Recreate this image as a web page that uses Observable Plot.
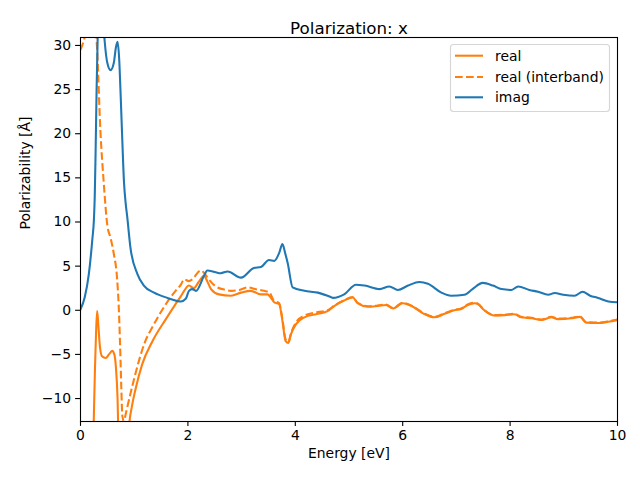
<!DOCTYPE html>
<html><head><meta charset="utf-8">
<script src="https://cdn.jsdelivr.net/npm/d3@7"></script>
<script src="https://cdn.jsdelivr.net/npm/@observablehq/plot@0.6"></script>
<style>body{margin:0;background:#fff} svg{font-family:"DejaVu Sans",sans-serif}</style>
</head><body><div id="chart"></div>
<script>
const chartTitle = "Polarization: x";
const xLabel = "Energy [eV]";
const yLabel = "Polarizability [Å]";
const xTicks = [0, 2, 4, 6, 8, 10];
const yTicks = [-10, -5, 0, 5, 10, 15, 20, 25, 30];
const seriesNames = ["real", "real (interband)", "imag"];

const realX = [0.02,0.1,0.2,0.245,0.27,0.29,0.31,0.33,0.36,0.40,0.47,0.53,0.59,0.63,0.66,0.69,0.72,0.78,0.85,0.90,0.96,1.03,1.15,1.34,1.59,1.77,1.87,1.93,2.02,2.11,2.20,2.30,2.36,2.43,2.58,2.80,2.99,3.17,3.36,3.48,3.61,3.70,3.76,3.82,3.87,3.92,4.01,4.17,4.42,4.60,4.73,4.91,5.07,5.16,5.35,5.54,5.69,5.82,6.00,6.19,6.38,6.59,6.78,6.96,7.09,7.21,7.34,7.40,7.52,7.71,7.90,8.08,8.21,8.40,8.58,8.77,8.89,9.14,9.30,9.42,9.64,9.83,10];
const realY = [-200,-60,-25,-13,-6.5,-2.5,-0.1,-1.5,-4,-5.2,-5.4,-5.0,-4.6,-5.0,-6.5,-10,-18,-25,-20,-13.5,-10.8,-8.8,-6.1,-3.5,-1.0,0.7,1.6,2.2,2.8,2.5,3.2,3.9,3.3,2.4,1.8,1.65,2.0,2.2,1.8,1.8,0.9,0.7,-1.2,-3.5,-3.7,-2.7,-1.6,-0.8,-0.4,-0.1,0.5,1.1,1.45,0.8,0.4,0.5,0.6,0.2,0.8,0.4,-0.35,-0.8,-0.4,0.0,0.15,0.6,0.8,0.7,0.0,-0.6,-0.55,-0.45,-0.8,-0.9,-1.1,-0.8,-1.0,-0.9,-0.75,-1.4,-1.45,-1.3,-1.1];

const interX = [0,0.05,0.1,0.18,0.25,0.31,0.37,0.43,0.50,0.56,0.62,0.68,0.71,0.74,0.76,0.78,0.81,0.84,0.96,1.08,1.20,1.34,1.59,1.77,1.87,1.93,2.02,2.08,2.24,2.33,2.39,2.52,2.71,2.80,2.96,3.11,3.25,3.42,3.52,3.60,3.70,3.76,3.82,3.87,3.92,4.01,4.17,4.42,4.60,4.73,4.91,5.07,5.16,5.35,5.54,5.69,5.82,6.00,6.19,6.38,6.59,6.78,6.96,7.09,7.21,7.34,7.40,7.52,7.71,7.90,8.08,8.21,8.40,8.58,8.77,8.89,9.14,9.30,9.42,9.64,9.83,10];
const interY = [29.5,30.3,31.5,34,34,29.5,20.4,14.7,9.6,8.2,6.4,3.7,0.7,-4.5,-8.8,-12.0,-12.6,-11.8,-8.7,-5.9,-3.6,-1.9,0.7,2.2,2.9,3.5,3.3,3.5,4.5,4.0,3.5,2.7,2.3,2.2,2.3,2.6,2.4,2.2,2.0,1.1,0.8,-1.0,-3.3,-3.6,-2.6,-1.4,-0.6,-0.2,0.0,0.55,1.15,1.5,0.85,0.45,0.55,0.65,0.25,0.85,0.45,-0.3,-0.75,-0.35,0.05,0.2,0.65,0.85,0.75,0.0,-0.55,-0.5,-0.4,-0.75,-0.85,-1.05,-0.75,-0.95,-0.85,-0.7,-1.35,-1.4,-1.25,-1.05];

const imagX = [0,0.08,0.155,0.22,0.25,0.265,0.28,0.30,0.32,0.35,0.38,0.41,0.45,0.50,0.56,0.62,0.66,0.69,0.72,0.75,0.78,0.81,0.84,0.87,0.93,1.06,1.18,1.37,1.62,1.87,1.96,2.02,2.08,2.15,2.30,2.36,2.52,2.61,2.74,2.99,3.23,3.36,3.51,3.61,3.70,3.76,3.81,3.86,3.95,4.17,4.42,4.66,4.70,4.91,5.13,5.29,5.57,5.75,5.91,6.10,6.31,6.47,6.72,6.90,7.15,7.30,7.49,7.68,7.84,8.02,8.15,8.36,8.52,8.71,8.83,8.99,9.20,9.35,9.49,9.64,9.83,10];
const imagY = [0.1,1.5,4.1,8.0,10.3,12.8,17.5,25,31,35,36,34,30.5,28,27.2,28,29.8,30.4,28.5,24,19,14.5,12.2,10.6,7.1,4.1,2.8,2.0,1.4,1.0,1.3,2.2,2.4,2.2,3.9,4.5,4.3,4.2,4.4,3.7,4.8,4.9,5.7,5.6,6.5,7.5,6.5,5.3,2.6,2.2,2.0,1.5,1.4,1.8,2.9,2.8,2.4,2.7,2.3,2.8,3.2,3.0,2.0,1.65,1.75,2.4,3.1,2.8,2.4,2.3,2.7,2.3,2.1,1.76,1.95,1.76,1.65,2.1,1.65,1.4,1.0,0.9];

const colors = ["#ff7f0e", "#ff7f0e", "#1f77b4"];
const dashes = [null, "7.7,3.3", null];

const rows = (xs, ys) => xs.map((x, i) => ({x, y: ys[i]}));
const data = [rows(realX, realY), rows(interX, interY), rows(imagX, imagY)];

const lw = 2.08;
const marks = data.map((d, i) => Plot.line(d, {
  x: "x", y: "y", stroke: colors[i], strokeWidth: lw, curve: "monotone-x",
  clip: true, strokeDasharray: dashes[i] || undefined,
  strokeLinecap: dashes[i] ? "butt" : "square", strokeLinejoin: "round"
}));

const chart = Plot.plot({
  width: 640, height: 480,
  marginLeft: 80, marginRight: 23, marginTop: 37, marginBottom: 59,
  style: {fontFamily: "DejaVu Sans", fontSize: "13.9px", background: "white", color: "black", overflow: "visible"},
  x: {domain: [0, 10], label: null},
  y: {domain: [-12.6, 30.9], label: null},
  marks: [
    ...marks,
    Plot.axisX(xTicks, {tickSize: 4.9, tickPadding: 4, fontSize: 13.9, strokeWidth: 1.1, label: null}),
    Plot.axisY(yTicks, {tickSize: 4.9, tickPadding: 4.5, fontSize: 13.9, strokeWidth: 1.1, label: null}),
    Plot.frame({stroke: "black", strokeWidth: 1.1}),
    Plot.text([chartTitle], {frameAnchor: "top", dy: -15, fontSize: 16.7, fill: "black"}),
    Plot.text([xLabel], {frameAnchor: "bottom", dy: 36, fontSize: 13.9, fill: "black"}),
    Plot.text([yLabel], {frameAnchor: "left", dx: -55, rotate: -90, fontSize: 13.9, fill: "black"})
  ]
});

// legend (upper right, matplotlib style)
const svg = d3.select(chart);
const g = svg.append("g").attr("font-family", "DejaVu Sans").attr("font-size", "13.9px")
  .attr("text-anchor", "start");
g.append("rect").attr("x", 450.5).attr("y", 44.5).attr("width", 159).attr("height", 67)
  .attr("rx", 3).attr("fill", "white").attr("fill-opacity", 0.8)
  .attr("stroke", "#cccccc").attr("stroke-opacity", 0.8).attr("stroke-width", 1.1);
const rowY = [55.7, 77, 97.3];
seriesNames.forEach((name, i) => {
  const ln = g.append("line").attr("x1", 455).attr("x2", 483).attr("y1", rowY[i]).attr("y2", rowY[i])
    .attr("stroke", colors[i]).attr("stroke-width", lw);
  if (dashes[i]) ln.attr("stroke-dasharray", dashes[i]);
  g.append("text").attr("x", 495).attr("y", rowY[i]).attr("dy", "0.35em")
    .attr("text-anchor", "start").attr("fill", "black").text(name);
});

document.getElementById("chart").appendChild(chart);
</script>
</body></html>
